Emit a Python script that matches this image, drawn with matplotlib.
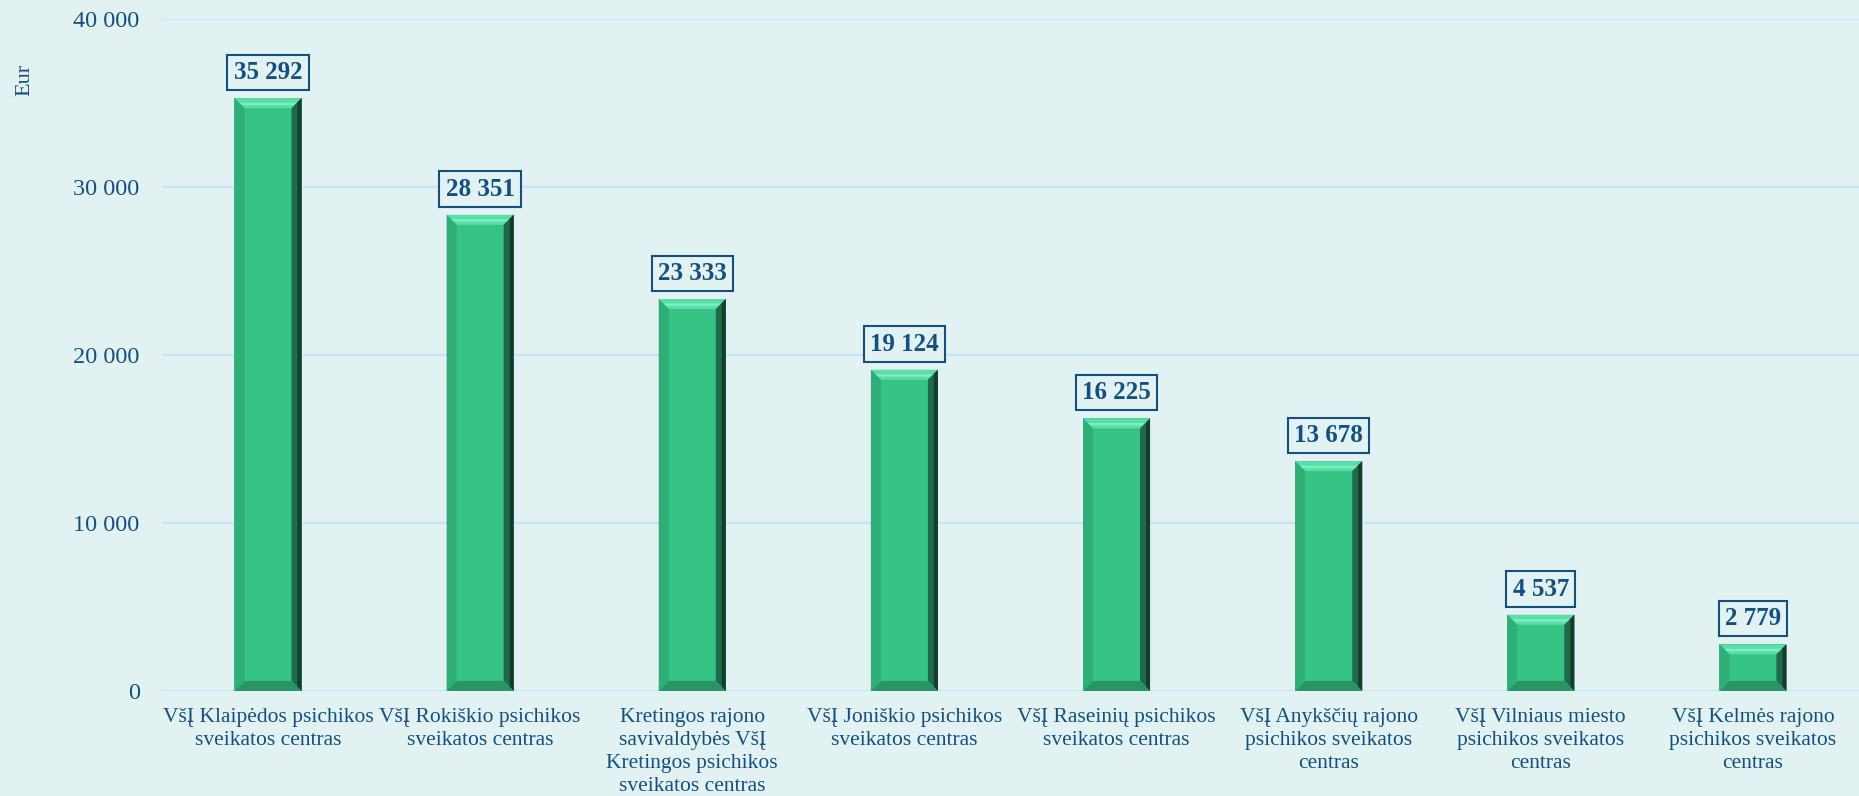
import matplotlib.pyplot as plt
from matplotlib.patches import Polygon

categories = [
    "VšĮ Klaipėdos psichikos\nsveikatos centras",
    "VšĮ Rokiškio psichikos\nsveikatos centras",
    "Kretingos rajono\nsavivaldybės VšĮ\nKretingos psichikos\nsveikatos centras",
    "VšĮ Joniškio psichikos\nsveikatos centras",
    "VšĮ Raseinių psichikos\nsveikatos centras",
    "VšĮ Anykščių rajono\npsichikos sveikatos\ncentras",
    "VšĮ Vilniaus miesto\npsichikos sveikatos\ncentras",
    "VšĮ Kelmės rajono\npsichikos sveikatos\ncentras",
]
values = [35292, 28351, 23333, 19124, 16225, 13678, 4537, 2779]
yticks = [0, 10000, 20000, 30000, 40000]

bg = "#e2f2f2"
text_color = "#14507f"
grid_color = "#c5e4f7"
face = "#35c486"

plt.rcParams["font.family"] = ["Liberation Serif", "DejaVu Serif"]

fig = plt.figure(figsize=(18.59, 7.96), dpi=100, facecolor=bg)
ax = fig.add_axes([0.0871, 0.132, 0.9129, 0.844], facecolor=bg)

x = range(len(values))
width = 0.316
bars = ax.bar(x, values, width=width, color=face, edgecolor="none", zorder=3)

ax.set_xlim(-0.5, len(values) - 0.5)
ax.set_ylim(0, 40000)

# bevel effect: sizes in data units from ~10 px
bx = 10 / (fig.get_size_inches()[0] * 100 * 0.9129) * len(values)
by = 10 / (fig.get_size_inches()[1] * 100 * 0.844) * 40000
for b in bars:
    x0, x1 = b.get_x(), b.get_x() + b.get_width()
    h = b.get_height()
    top = Polygon([(x0, h), (x1, h), (x1 - bx, h - by), (x0 + bx, h - by)],
                  closed=True, color="#5bdca8", zorder=4, lw=0)
    hl = Polygon([(x0 + bx * 0.5, h - by * 0.45), (x1 - bx * 0.5, h - by * 0.45),
                  (x1 - bx * 0.7, h - by * 0.7), (x0 + bx * 0.7, h - by * 0.7)],
                 closed=True, color="#7af0c2", zorder=4, lw=0)
    right = Polygon([(x1, h), (x1, 0), (x1 - bx, by), (x1 - bx, h - by)],
                    closed=True, color="#1f6a4a", zorder=4, lw=0)
    rdark = Polygon([(x1, h), (x1, 0), (x1 - bx * 0.4, by * 0.4), (x1 - bx * 0.4, h - by * 0.4)],
                    closed=True, color="#123f2c", zorder=4, lw=0)
    bottom = Polygon([(x0, 0), (x1, 0), (x1 - bx, by), (x0 + bx, by)],
                     closed=True, color="#2a9466", zorder=4, lw=0)
    left = Polygon([(x0, 0), (x0, h), (x0 + bx, h - by), (x0 + bx, by)],
                   closed=True, color="#2fae78", zorder=4, lw=0)
    for p in (top, hl, right, rdark, bottom, left):
        ax.add_patch(p)
    ax.annotate(f"{int(h):,}".replace(",", " "), (b.get_x() + b.get_width() / 2, h),
                xytext=(0, 18.5), textcoords="offset points", ha="center", va="center",
                fontsize=18, fontweight="bold", color=text_color, zorder=5,
                bbox=dict(boxstyle="square,pad=0.25", fc=bg, ec=text_color, lw=1.5))

ax.set_yticks(yticks)
ax.set_yticklabels([f"{v:,}".replace(",", " ") for v in yticks])
ax.set_xticks(list(x))
ax.set_xticklabels(categories, linespacing=1.3)
ax.tick_params(axis="both", length=0, labelcolor=text_color)
ax.tick_params(axis="y", pad=16, labelsize=17.5)
ax.tick_params(axis="x", pad=12, labelsize=15.5)
for lbl in ax.get_xticklabels():
    lbl.set_horizontalalignment("center")
    lbl.set_verticalalignment("top")

ax.grid(axis="y", color=grid_color, lw=1.5, zorder=0)
for s in ax.spines.values():
    s.set_visible(False)

fig.text(0.0135, 0.90, "Eur", rotation=90, fontsize=16, color=text_color,
         ha="center", va="center")

fig.savefig("out.png", dpi=100, facecolor=bg)
